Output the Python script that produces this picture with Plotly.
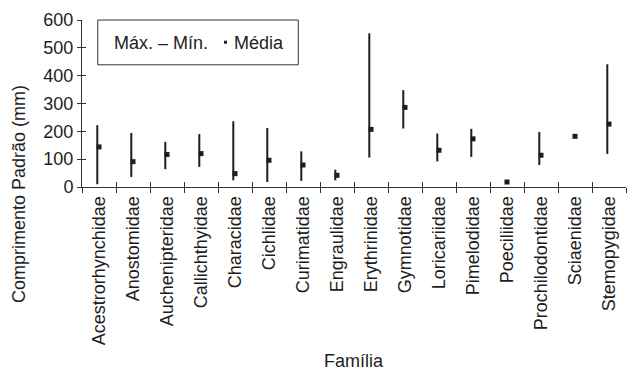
import plotly.graph_objects as go

# Fish families and standard length (mm): maximum, minimum and mean
familias = ["Acestrorhynchidae", "Anostomidae", "Auchenipteridae", "Callichthyidae",
            "Characidae", "Cichlidae", "Curimatidae", "Engraulidae", "Erythrinidae",
            "Gymnotidae", "Loricariidae", "Pimelodidae", "Poeciliidae",
            "Prochilodontidae", "Sciaenidae", "Stemopygidae"]
maximo = [222, 194, 162, 190, 236, 212, 128, 62, 552, 348, 192, 209, 18, 198, 182, 441]
minimo = [10, 36, 64, 72, 24, 18, 22, 24, 106, 210, 92, 108, 18, 79, 182, 119]
media = [144, 91, 117, 120, 48, 96, 79, 42, 207, 286, 132, 173, 18, 114, 182, 226]
y_ticks = [0, 100, 200, 300, 400, 500, 600]

FONT = "Liberation Sans, Arial, sans-serif"
INK = "#1e1e1e"
AXIS = "#333333"

pos = list(range(len(familias)))
bounds = [p - 0.5 for p in pos] + [pos[-1] + 0.5]
line_off = -0.05  # range line sits just left of the mean marker

# vertical max-min lines
lx, ly = [], []
for p, lo, hi in zip(pos, minimo, maximo):
    lx += [p + line_off, p + line_off, None]
    ly += [lo, hi, None]

fig = go.Figure()
fig.add_trace(go.Scatter(x=lx, y=ly, mode="lines",
                         line=dict(color=INK, width=2), hoverinfo="skip",
                         showlegend=False))
fig.add_trace(go.Scatter(x=pos, y=media, mode="markers",
                         marker=dict(symbol="square", size=5, color=INK,
                                     line=dict(width=0)),
                         showlegend=False))
# helper trace so the overlay axes (inner half of the crossing ticks) render
fig.add_trace(go.Scatter(x=[None], y=[None], xaxis="x2", yaxis="y2",
                         mode="markers", showlegend=False, hoverinfo="skip"))

xr = [-0.5, len(familias) - 0.5]
yr = [0, 600]

fig.update_layout(
    width=627, height=373,
    margin=dict(l=82, r=1, t=20, b=186),
    paper_bgcolor="white", plot_bgcolor="white",
    font=dict(family=FONT, size=18, color=INK),
    showlegend=False,
    xaxis=dict(range=xr, tickmode="array", tickvals=pos, ticktext=familias,
               tickangle=-90, ticks="", showgrid=False, zeroline=False,
               showline=True, linecolor=AXIS, linewidth=1,
               tickfont=dict(size=18, color=INK), ticklabelstandoff=1,
               minor=dict(tickmode="array", tickvals=bounds, ticks="outside",
                          ticklen=5, tickwidth=1, tickcolor=AXIS)),
    yaxis=dict(range=yr, tickmode="array", tickvals=y_ticks, ticks="outside",
               ticklen=4, tickwidth=1, tickcolor=AXIS, showgrid=False,
               zeroline=False, showline=True, linecolor=AXIS, linewidth=1,
               tickfont=dict(size=18, color=INK)),
    xaxis2=dict(overlaying="x", anchor="y2", range=xr, tickmode="array",
                tickvals=bounds, ticks="inside", ticklen=5, tickwidth=1,
                tickcolor=AXIS, showticklabels=False, showgrid=False,
                zeroline=False, showline=False),
    yaxis2=dict(overlaying="y", anchor="x2", range=yr, tickmode="array",
                tickvals=y_ticks, ticks="inside", ticklen=4, tickwidth=1,
                tickcolor=AXIS, showticklabels=False, showgrid=False,
                zeroline=False, showline=False),
)

# legend box
fig.add_shape(type="rect", xref="paper", yref="paper",
              x0=0.029, x1=0.3976, y0=0.7317, y1=1.0,
              line=dict(color=AXIS, width=1), fillcolor="white", layer="above")
fig.add_annotation(xref="paper", yref="paper", x=0.056, y=0.865,
                   xanchor="left", yanchor="middle", showarrow=False,
                   text="Máx. – Mín.", font=dict(size=18, color=INK))
fig.add_shape(type="rect", xref="paper", yref="paper",
              x0=0.261, x1=0.2665, y0=0.858, y1=0.876,
              line=dict(width=0), fillcolor=INK, layer="above")
fig.add_annotation(xref="paper", yref="paper", x=0.276, y=0.865,
                   xanchor="left", yanchor="middle", showarrow=False,
                   text="Média", font=dict(size=18, color=INK))

# axis titles
fig.add_annotation(xref="paper", yref="paper", x=0, y=0, xshift=-63,
                   yshift=-7, xanchor="center", yanchor="middle",
                   textangle=-90, showarrow=False,
                   text="Comprimento Padrão (mm)", font=dict(size=18, color=INK))
fig.add_annotation(xref="paper", yref="paper", x=0.5, y=0, yshift=-174,
                   xanchor="center", yanchor="middle", showarrow=False,
                   text="Família", font=dict(size=18, color=INK))

fig.write_html("out.html")
